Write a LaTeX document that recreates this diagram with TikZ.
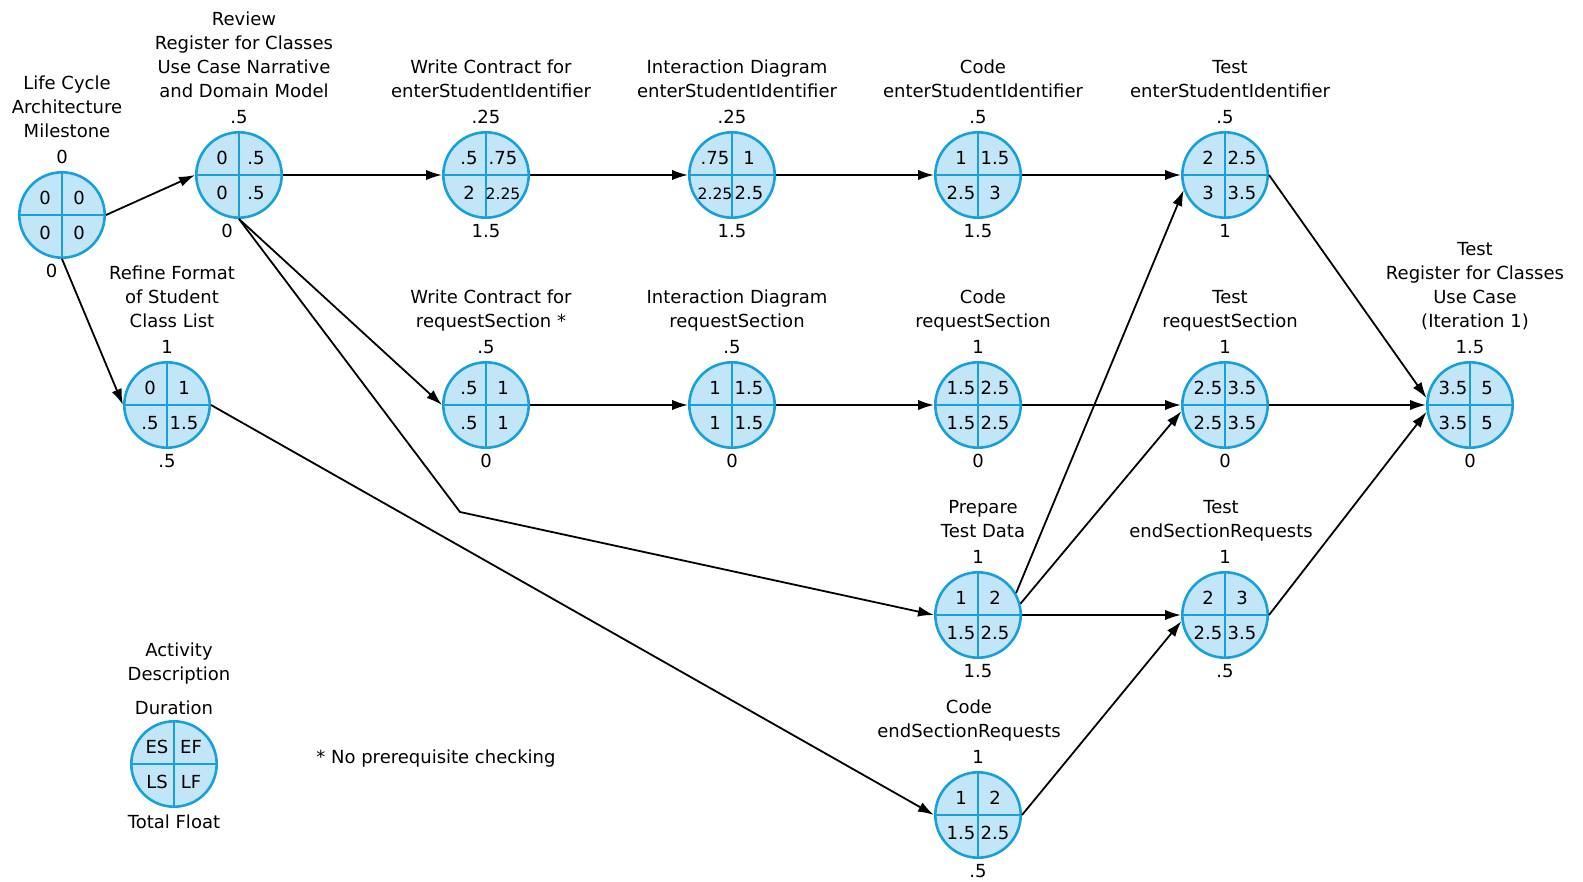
\documentclass[tikz,border=0pt]{standalone}
\usepackage{fontspec}
\setmainfont{DejaVu Sans}
\usepackage{tikz}
\usetikzlibrary{arrows.meta,positioning}

\definecolor{actblue}{RGB}{22,160,220}
\definecolor{actfill}{RGB}{194,230,248}

\newcommand{\sm}{\fontsize{7.8}{9}\selectfont}

\tikzset{
  act/.style={circle, draw=actblue, fill=actfill, line width=1.3pt, minimum size=42.7pt, inner sep=0pt},
  cross/.style={actblue, line width=1pt},
  num/.style={inner sep=0pt, text height=6.5pt, text depth=0pt},
  dur/.style={inner sep=0pt, text height=6.5pt, text depth=0pt},
  desc/.style={align=center, inner sep=0pt, xshift=2.5pt, execute at end node=\strut},
  arr/.style={-{Latex[length=8pt,width=5.2pt]}, line width=0.9pt},
}

% circle with the four quadrant values ES EF / LS LF
\newcommand{\act}[6]{%
  \node[act] (#1) at (#2) {};
  \draw[cross] (#1.north) -- (#1.south) (#1.west) -- (#1.east);
  \path (#1) ++(-17,-17) node[num] {#3} ++(34,0) node[num] {#4}
        (#1) ++(-17,18) node[num] {#5} ++(34,0) node[num] {#6};
}

\begin{document}
\begin{tikzpicture}[x=0.5pt, y=-0.5pt, font=\fontsize{9}{12}\selectfont]
\useasboundingbox (0,0) rectangle (1583,882);

\act{A}{62,215}{0}{0}{0}{0}
\act{B}{239,175}{0}{.5}{0}{.5}
\act{C}{486,175}{.5}{.75}{2}{\sm 2.25}
\act{D}{732,175}{.75}{1}{\sm 2.25}{2.5}
\act{E}{978,175}{1}{1.5}{2.5}{3}
\act{F}{1225,175}{2}{2.5}{3}{3.5}
\act{G}{167,405}{0}{1}{.5}{1.5}
\act{H}{486,405}{.5}{1}{.5}{1}
\act{I}{732,405}{1}{1.5}{1}{1.5}
\act{J}{978,405}{1.5}{2.5}{1.5}{2.5}
\act{K}{1225,405}{2.5}{3.5}{2.5}{3.5}
\act{L}{1470,405}{3.5}{5}{3.5}{5}
\act{M}{978,615}{1}{2}{1.5}{2.5}
\act{N}{1225,615}{2}{3}{2.5}{3.5}
\act{O}{978,815}{1}{2}{1.5}{2.5}
\act{leg}{174,764}{ES}{EF}{LS}{LF}

\node[dur, above=3.7pt of A] (Adur) {0};
\node[desc, above=2.35pt of Adur] (Adesc) {Life Cycle\\Architecture\\Milestone};
\node[dur, below=2.7pt of A, xshift=-5.25pt] (Aflt) {0};

\node[dur, above=3.7pt of B] (Bdur) {.5};
\node[desc, above=2.35pt of Bdur] (Bdesc) {Review\\Register for Classes\\Use Case Narrative\\and Domain Model};
\node[dur, below=2.7pt of B, xshift=-6pt] (Bflt) {0};

\node[dur, above=3.7pt of C] (Cdur) {.25};
\node[desc, above=2.35pt of Cdur] (Cdesc) {Write Contract for\\enterStudentIdentifier};
\node[dur, below=2.7pt of C] (Cflt) {1.5};

\node[dur, above=3.7pt of D] (Ddur) {.25};
\node[desc, above=2.35pt of Ddur] (Ddesc) {Interaction Diagram\\enterStudentIdentifier};
\node[dur, below=2.7pt of D] (Dflt) {1.5};

\node[dur, above=3.7pt of E] (Edur) {.5};
\node[desc, above=2.35pt of Edur] (Edesc) {Code\\enterStudentIdentifier};
\node[dur, below=2.7pt of E] (Eflt) {1.5};

\node[dur, above=3.7pt of F] (Fdur) {.5};
\node[desc, above=2.35pt of Fdur] (Fdesc) {Test\\enterStudentIdentifier};
\node[dur, below=2.7pt of F] (Fflt) {1};

\node[dur, above=3.7pt of G] (Gdur) {1};
\node[desc, above=2.35pt of Gdur] (Gdesc) {Refine Format\\of Student\\Class List};
\node[dur, below=2.7pt of G] (Gflt) {.5};

\node[dur, above=3.7pt of H] (Hdur) {.5};
\node[desc, above=2.35pt of Hdur] (Hdesc) {Write Contract for\\requestSection *};
\node[dur, below=2.7pt of H] (Hflt) {0};

\node[dur, above=3.7pt of I] (Idur) {.5};
\node[desc, above=2.35pt of Idur] (Idesc) {Interaction Diagram\\requestSection};
\node[dur, below=2.7pt of I] (Iflt) {0};

\node[dur, above=3.7pt of J] (Jdur) {1};
\node[desc, above=2.35pt of Jdur] (Jdesc) {Code\\requestSection};
\node[dur, below=2.7pt of J] (Jflt) {0};

\node[dur, above=3.7pt of K] (Kdur) {1};
\node[desc, above=2.35pt of Kdur] (Kdesc) {Test\\requestSection};
\node[dur, below=2.7pt of K] (Kflt) {0};

\node[dur, above=3.7pt of L] (Ldur) {1.5};
\node[desc, above=2.35pt of Ldur] (Ldesc) {Test\\Register for Classes\\Use Case\\(Iteration 1)};
\node[dur, below=2.7pt of L] (Lflt) {0};

\node[dur, above=3.7pt of M] (Mdur) {1};
\node[desc, above=2.35pt of Mdur] (Mdesc) {Prepare\\Test Data};
\node[dur, below=2.7pt of M] (Mflt) {1.5};

\node[dur, above=3.7pt of N] (Ndur) {1};
\node[desc, above=2.35pt of Ndur, xshift=-4.5pt] (Ndesc) {Test\\endSectionRequests};
\node[dur, below=2.7pt of N] (Nflt) {.5};

\node[dur, above=3.7pt of O] (Odur) {1};
\node[desc, above=2.35pt of Odur, xshift=-7pt] (Odesc) {Code\\endSectionRequests};
\node[dur, below=2.7pt of O] (Oflt) {.5};

\node[dur, above=2.7pt of leg] (legdur) {Duration};
\node[desc, above=6.35pt of legdur] (legdesc) {Activity\\Description};
\node[dur, below=3.7pt of leg] (legflt) {Total Float};

\node[anchor=west, inner sep=0pt] (note) at (316,759) {* No prerequisite checking};

\coordinate (bend) at (460,512);

\draw[arr] (A.east) -- (B.west);
\draw[arr] (A.south) -- (G.west);
\draw[arr] (B.east) -- (C.west);
\draw[arr] (C.east) -- (D.west);
\draw[arr] (D.east) -- (E.west);
\draw[arr] (E.east) -- (F.west);
\draw[arr] (B.south) -- (H.west);
\draw[arr] (B.south) -- (bend) -- (M.west);
\draw[arr] (G.east) -- (O.west);
\draw[arr] (H.east) -- (I.west);
\draw[arr] (I.east) -- (J.west);
\draw[arr] (J.east) -- (K.west);
\draw[arr] (K.east) -- (L.west);
\draw[arr] (F.east) -- (L.171);
\draw[arr] (N.east) -- (L.189);
\draw[arr] (M.30) -- (F.200);
\draw[arr] (M.15) -- (K.188);
\draw[arr] (M.east) -- (N.west);
\draw[arr] (O.east) -- (N.188);
\end{tikzpicture}
\end{document}
